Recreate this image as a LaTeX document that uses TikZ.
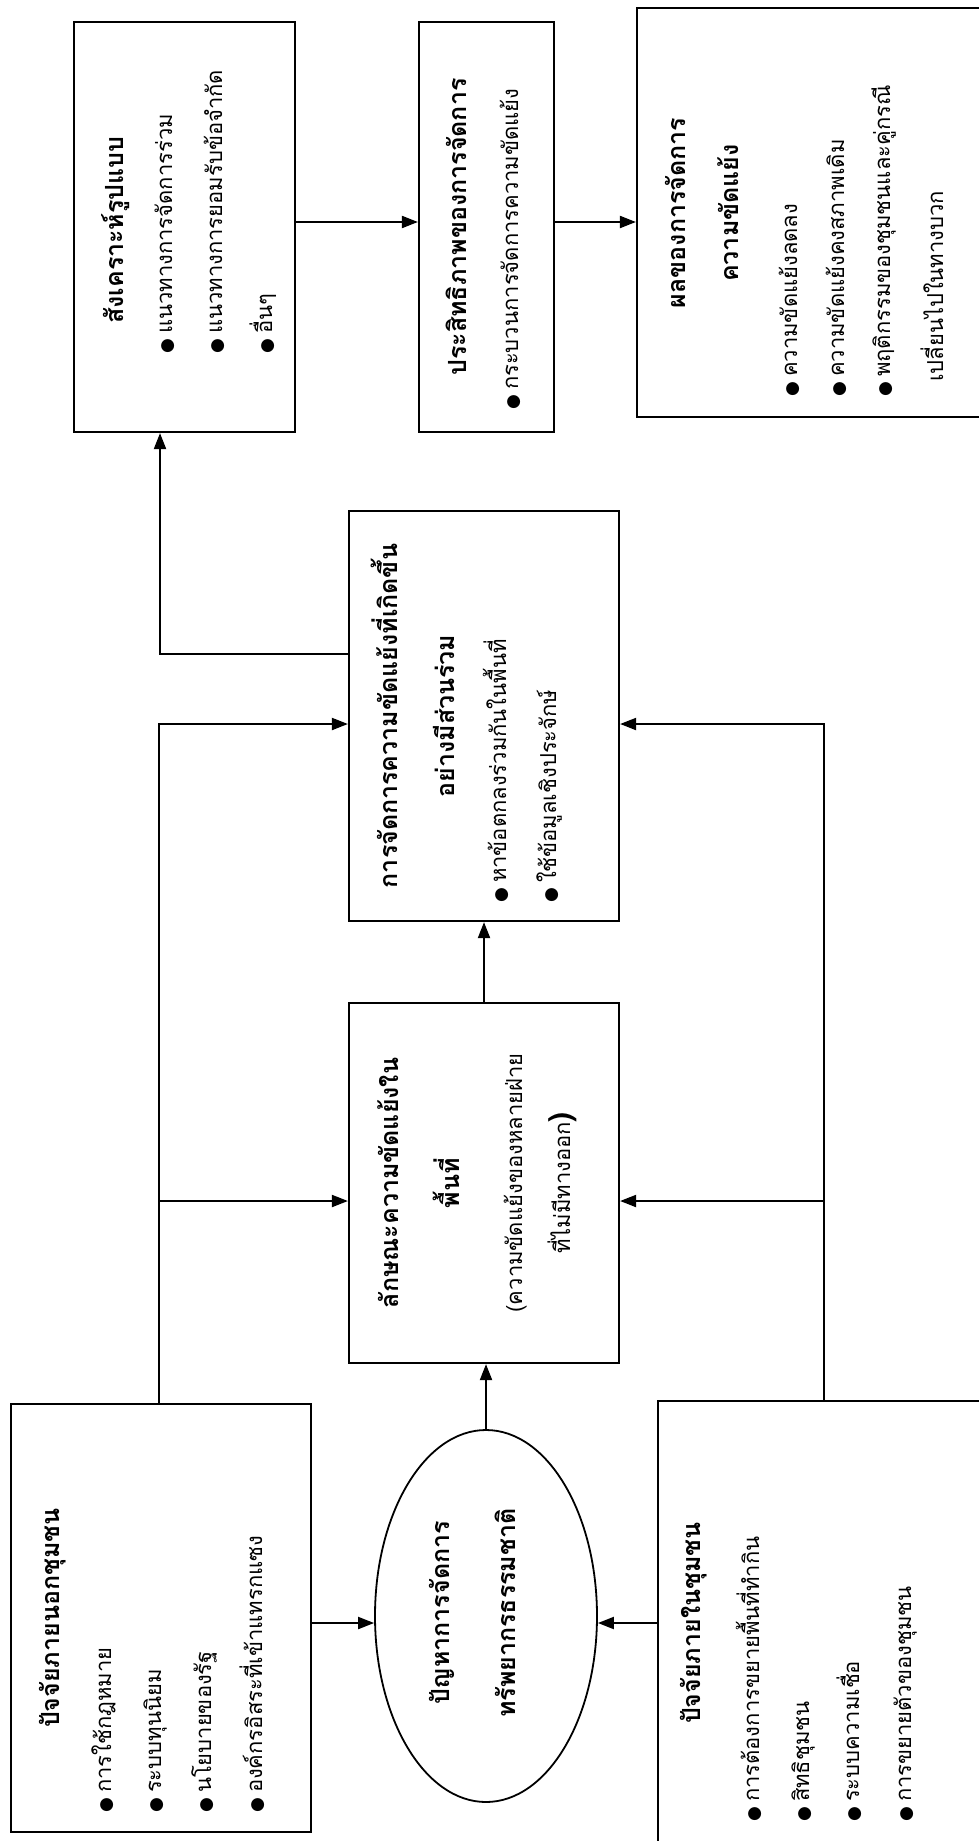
\documentclass[tikz,border=0pt]{standalone}
\usepackage{fontspec}
\usetikzlibrary{arrows.meta,shapes.geometric}
\newfontfamily\thai[Script=Thai]{Loma}
\newfontfamily\dejavu{DejaVu Sans}
\newcommand{\bul}{{\dejavu\fontsize{17}{20}\selectfont ●}\hspace{5pt}}
\begin{document}
\begin{tikzpicture}[x=1pt,y=-1pt,
  box/.style={draw, line width=2.2pt, rectangle, inner sep=0pt},
  oval/.style={draw, line width=1.8pt, ellipse, inner sep=0pt},
  arr/.style={line width=2pt, -{Triangle[length=16pt,width=12pt]}},
  tx/.style={rotate=90, inner sep=0pt, font=\thai\fontsize{22}{26}\selectfont},
  tt/.style={rotate=90, inner sep=0pt, font=\thai\bfseries\fontsize{25}{30}\selectfont}]
\path[use as bounding box] (0,0) rectangle (979,1841);
\fill[white] (0,0) rectangle (979,1841);
\clip (0,0) rectangle (979,1841);

% boxes
\node[box, minimum width=300pt, minimum height=428pt] (b1) at (161,1618) {};
\node[box, minimum width=352pt, minimum height=449pt] (b3) at (834,1625.5) {};
\node[oval, minimum width=222pt, minimum height=372pt] (el) at (486,1616) {};
\node[box, minimum width=270pt, minimum height=360pt] (b4) at (484,1183) {};
\node[box, minimum width=270pt, minimum height=410pt] (b5) at (484,716) {};
\node[box, minimum width=221pt, minimum height=410pt] (b6) at (184.5,227) {};
\node[box, minimum width=135pt, minimum height=410pt] (b7) at (486.5,227) {};
\node[box, minimum width=373pt, minimum height=409pt] (b8) at (823.5,212.5) {};

% junctions
\coordinate (tL) at (159,724);
\coordinate (mL) at (159,1201);
\coordinate (tR) at (824,724);
\coordinate (mR) at (824,1201);
\coordinate (jA) at (160,654);
\coordinate (rowT) at (0,222);
\coordinate (rowB) at (0,1623);

% connectors
\draw[arr] (b1.north -| tL) -- (tL) -- (tL -| b5.west);
\draw[arr] (mL) -- (mL -| b4.west);
\draw[arr] (b3.north -| tR) -- (tR) -- (tR -| b5.east);
\draw[arr] (mR) -- (mR -| b4.east);
\draw[arr] (b5.west |- jA) -- (jA) -- (jA |- b6.south);
\draw[arr] (b6.east |- rowT) -- (b7.west |- rowT);
\draw[arr] (b7.east |- rowT) -- (b8.west |- rowT);
\draw[arr] (b1.east |- rowB) -- (el.west |- rowB);
\draw[arr] (b3.west |- rowB) -- (el.east |- rowB);
\draw[arr] (el.north) -- (el.north |- b4.south);
\draw[arr] (b4.north) -- (b5.south);

% box 1
\node[tt, anchor=base] (b1t) at (59,1618) {ปัจจัยภายนอกชุมชน};
\node[tx, anchor=base west] (b1a) at (111,1813) {\bul การใช้กฎหมาย};
\node[tx, anchor=base west] (b1b) at (161,1813) {\bul ระบบทุนนิยม};
\node[tx, anchor=base west] (b1c) at (211,1813) {\bul นโยบายของรัฐ};
\node[tx, anchor=base west] (b1d) at (262,1813) {\bul องค์กรอิสระที่เข้าแทรกแซง};

% ellipse
\node[tt, anchor=base] (elt1) at (449,1613) {ปัญหาการจัดการ};
\node[tt, anchor=base] (elt2) at (515,1613) {ทรัพยากรธรรมชาติ};

% box 3
\node[tt, anchor=base] (b3t) at (700,1623) {ปัจจัยภายในชุมชน};
\node[tx, anchor=base west] (b3a) at (759,1822) {\bul การต้องการขยายพื้นที่ทำกิน};
\node[tx, anchor=base west] (b3b) at (809,1822) {\bul สิทธิชุมชน};
\node[tx, anchor=base west] (b3c) at (859,1822) {\bul ระบบความเชื่อ};
\node[tx, anchor=base west] (b3d) at (911,1822) {\bul การขยายตัวของชุมชน};

% box 4
\node[tt, anchor=base] (b4t1) at (398,1183) {ลักษณะความขัดแย้งใน};
\node[tt, anchor=base] (b4t2) at (459,1183) {พื้นที่};
\node[tx, anchor=base] (b4a) at (522,1183) {(ความขัดแย้งของหลายฝ่าย};
\node[tx, anchor=base] (b4b) at (570,1183) {ที่ไม่มีทางออก{\bfseries\fontsize{30}{34}\selectfont)}};

% box 5
\node[tt, anchor=base] (b5t1) at (397,716) {การจัดการความขัดแย้งที่เกิดขึ้น};
\node[tt, anchor=base] (b5t2) at (454,716) {อย่างมีส่วนร่วม};
\node[tx, anchor=base west] (b5a) at (506,903) {\bul หาข้อตกลงร่วมกันในพื้นที่};
\node[tx, anchor=base west] (b5b) at (556,903) {\bul ใช้ข้อมูลเชิงประจักษ์};

% box 6
\node[tt, anchor=base] (b6t) at (123,230) {สังเคราะห์รูปแบบ};
\node[tx, anchor=base west] (b6a) at (172,354) {\bul แนวทางการจัดการร่วม};
\node[tx, anchor=base west] (b6b) at (222,354) {\bul แนวทางการยอมรับข้อจำกัด};
\node[tx, anchor=base west] (b6c) at (272,354) {\bul อื่นๆ};

% box 7
\node[tt, anchor=base] (b7t) at (466,227) {ประสิทธิภาพของการจัดการ};
\node[tx, anchor=base west] (b7a) at (518,410) {\bul กระบวนการจัดการความขัดแย้ง};

% box 8
\node[tt, anchor=base] (b8t1) at (685,213) {ผลของการจัดการ};
\node[tt, anchor=base] (b8t2) at (738,213) {ความขัดแย้ง};
\node[tx, anchor=base west] (b8a) at (797,397) {\bul ความขัดแย้งลดลง};
\node[tx, anchor=base west] (b8b) at (844,397) {\bul ความขัดแย้งคงสภาพเดิม};
\node[tx, anchor=base west] (b8c) at (890,397) {\bul พฤติกรรมของชุมชนและคู่กรณี};
\node[tx, anchor=base west] (b8d) at (943,382) {เปลี่ยนไปในทางบวก};
\end{tikzpicture}
\end{document}
